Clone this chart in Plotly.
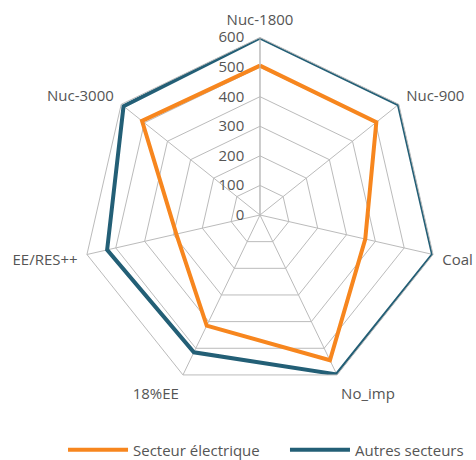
import plotly.graph_objects as go

categories = ["Nuc-1800", "Nuc-900", "Coal", "No_imp", "18%EE", "EE/RES++", "Nuc-3000"]
secteur_electrique = [505, 503, 365, 545, 415, 290, 510]
autres_secteurs = [600, 600, 600, 598, 515, 530, 590]
radial_ticks = [0, 100, 200, 300, 400, 500, 600]

def closed(v):
    return list(v) + [v[0]]

fig = go.Figure()
fig.add_trace(go.Scatterpolar(
    r=closed(secteur_electrique), theta=closed(categories),
    mode="lines", name="Secteur électrique", legend="legend",
    line=dict(color="#F7861E", width=4)))
fig.add_trace(go.Scatterpolar(
    r=closed(autres_secteurs), theta=closed(categories),
    mode="lines", name="Autres secteurs", legend="legend2",
    line=dict(color="#235F76", width=4)))

legend_common = dict(orientation="h", xanchor="left", y=0.0217, yanchor="middle",
                     font=dict(size=15, color="#555"), itemwidth=60,
                     bgcolor="rgba(0,0,0,0)")

fig.update_layout(
    width=476, height=460,
    margin=dict(l=0, r=0, t=0, b=0, autoexpand=False),
    paper_bgcolor="white",
    font=dict(family="Open Sans", size=15, color="#555"),
    polar=dict(
        domain=dict(x=[0.1733, 0.9191], y=[0.1467, 0.9185]),
        bgcolor="white",
        gridshape="linear",
        angularaxis=dict(
            direction="clockwise", rotation=90,
            showline=True, linecolor="#bbb", linewidth=1,
            gridcolor="#bbb", gridwidth=1,
            ticks="outside", ticklen=6, tickcolor="rgba(0,0,0,0)",
            tickfont=dict(size=15, color="#555")),
        radialaxis=dict(
            range=[0, 600], tickvals=radial_ticks, angle=90,
            side="counterclockwise",
            showline=True, linecolor="#bbb", linewidth=1,
            gridcolor="#bbb", gridwidth=1,
            ticks="outside", ticklen=10, tickcolor="rgba(0,0,0,0)",
            tickangle=90,
            tickfont=dict(size=15, color="#555")),
    ),
    legend=dict(x=0.1324, **legend_common),
    legend2=dict(x=0.5987, **legend_common),
    showlegend=True,
)
fig.write_html("out.html", post_script="document.body.style.margin='0';",
               config={"displayModeBar": False})
